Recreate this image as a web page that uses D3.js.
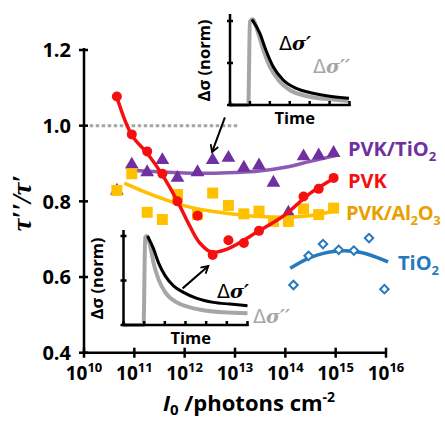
<!DOCTYPE html>
<html>
<head>
<meta charset="utf-8">
<script src="https://cdn.jsdelivr.net/npm/d3@7"></script>
<style>
  body { margin: 0; background: #fff; }
  svg { font-family: "Open Sans", sans-serif; font-weight: bold; }
</style>
</head>
<body>
<svg id="chart" width="445" height="421"></svg>
<script>
// intensities (photons cm^-2) and tau''/tau' ratios
const pvkX = [4.5e10, 8.9e10, 1.8e11, 3.6e11, 7.2e11, 1.8e12, 3.6e12, 7.4e12, 1.5e13, 3.0e13, 2.3e14, 4.6e14, 9.1e14];
const pvkY = [1.077, 0.977, 0.932, 0.873, 0.80, 0.762, 0.658, 0.697, 0.690, 0.722, 0.813, 0.833, 0.862];

const pvkTiX = [4.5e10, 8.9e10, 1.8e11, 3.6e11, 7.2e11, 1.8e12, 3.6e12, 7.4e12, 1.5e13, 3.0e13, 5.8e13, 1.15e14, 2.3e14, 4.6e14, 9.1e14];
const pvkTiY = [0.828, 0.897, 0.877, 0.909, 0.862, 0.877, 0.909, 0.915, 0.889, 0.895, 0.849, 0.770, 0.919, 0.921, 0.928];

const pvkAlX = [4.5e10, 8.9e10, 1.8e11, 3.6e11, 7.2e11, 1.8e12, 3.6e12, 7.4e12, 1.5e13, 3.0e13, 5.8e13, 1.15e14, 2.3e14, 4.6e14, 9.1e14];
const pvkAlY = [0.829, 0.873, 0.771, 0.752, 0.818, 0.765, 0.822, 0.789, 0.767, 0.774, 0.747, 0.747, 0.780, 0.765, 0.782];

const tioX = [1.45e14, 2.9e14, 5.6e14, 1.15e15, 2.3e15, 4.6e15, 9.3e15];
const tioY = [0.579, 0.656, 0.687, 0.672, 0.670, 0.703, 0.568];

// fitted guide lines
const pvkFit = [[4.5e10, 1.075], [8.9e10, 0.975], [1.8e11, 0.927], [3.6e11, 0.87], [7.2e11, 0.80], [1.26e12, 0.735],
  [2.0e12, 0.69], [3.4e12, 0.666], [7e12, 0.674], [3e13, 0.722], [1e14, 0.765], [3e14, 0.82], [9.5e14, 0.862]];
const pvkTiFit = [[8.9e10, 0.882], [3e11, 0.878], [1e12, 0.875], [3e12, 0.874], [1e13, 0.876], [3e13, 0.88],
  [1e14, 0.89], [3e14, 0.905], [1e15, 0.921]];
const pvkAlFit = [[6.3e10, 0.848], [1.6e11, 0.825], [4e11, 0.805], [1e12, 0.788], [3e12, 0.775], [1e13, 0.766],
  [3e13, 0.76], [1e14, 0.758], [3e14, 0.762], [1e15, 0.775]];
const tioFit = [[1.25e14, 0.623], [3.2e14, 0.652], [1e15, 0.668], [3.2e15, 0.665], [1.1e16, 0.64]];

const xTicks = [10, 11, 12, 13, 14, 15, 16];
const yTicks = [0.4, 0.6, 0.8, 1.0, 1.2];

// inset transients: time (arb.) and normalised photoconductance
const topTime = [0, 0.92, 1.0, 1.13, 1.42, 1.67, 2.0, 2.5, 3.0, 3.83, 5.0, 5.97];
const topGrey = [0, 0, 0.99, 1.02, 0.853, 0.655, 0.456, 0.278, 0.179, 0.107, 0.067, 0.048];
const topBlackT = [1.1, 1.5, 1.8, 2.17, 2.67, 3.33, 4.17, 5.0, 5.97];
const topBlack = [1.02, 0.853, 0.655, 0.456, 0.298, 0.198, 0.139, 0.103, 0.079];

const botTime = [0, 0.97, 1.05, 1.13, 1.29, 1.45, 1.69, 2.02, 2.58, 3.23, 4.03, 4.84, 6.0];
const botGrey = [0, 0, 0.985, 1.0, 0.888, 0.701, 0.515, 0.366, 0.254, 0.198, 0.160, 0.142, 0.131];
const botBlackT = [1.16, 1.45, 1.69, 2.02, 2.42, 2.9, 3.55, 4.35, 5.16, 6.0];
const botBlack = [1.0, 0.858, 0.701, 0.552, 0.44, 0.366, 0.299, 0.254, 0.235, 0.216];
const insetTicksX = [0, 1, 2, 3, 4, 5, 6];
const insetTicksY = [0, 0.5, 1];

const colors = { pvk: "#f50f0f", ti: "#7030a0", al: "#ffc000", alText: "#e6a100", tio: "#2679bd" };

const svg = d3.select("#chart");

const x = d3.scaleLog().domain([1e10, 1e16]).range([84, 386]);
const y = d3.scaleLinear().domain([0.4, 1.2]).range([352.7, 50]);

// axes
const gx = svg.append("g").attr("transform", "translate(0,352.7)");
gx.append("line").attr("x1", 84).attr("x2", 386).attr("stroke", "#000").attr("stroke-width", 2.5);
gx.selectAll("line.t").data(xTicks).join("line").attr("class", "t")
  .attr("x1", d => x(Math.pow(10, d))).attr("x2", d => x(Math.pow(10, d)))
  .attr("y1", -5).attr("y2", 5).attr("stroke", "#000").attr("stroke-width", 2.5);
const xl = gx.selectAll("text").data(xTicks).join("text")
  .attr("x", d => x(Math.pow(10, d))).attr("y", 27).attr("text-anchor", "middle")
  .attr("font-size", 19);
xl.append("tspan").text("10");
xl.append("tspan").attr("dy", -8).attr("font-size", 13).text(d => d);

const gy = svg.append("g").attr("transform", "translate(84,0)");
gy.append("line").attr("y1", 48).attr("y2", 354).attr("stroke", "#000").attr("stroke-width", 2.5);
gy.selectAll("line.t").data(yTicks).join("line").attr("class", "t")
  .attr("x1", -5).attr("x2", 4).attr("y1", d => y(d)).attr("y2", d => y(d))
  .attr("stroke", "#000").attr("stroke-width", 2.5);
gy.selectAll("text").data(yTicks).join("text")
  .attr("x", -13).attr("y", d => y(d)).attr("dy", "0.36em").attr("text-anchor", "end")
  .attr("font-size", 20).text(d => d.toFixed(1));

// axis titles
svg.append("text").attr("transform", "translate(31,203) rotate(-90)")
  .attr("text-anchor", "middle").attr("font-family", "Liberation Serif").attr("font-style", "italic")
  .attr("font-size", 28).text("\u03c4\u2032\u2032/\u03c4\u2032");
const xt = svg.append("text").attr("x", 249).attr("y", 411).attr("text-anchor", "middle").attr("font-size", 22);
xt.append("tspan").attr("font-style", "italic").text("I");
xt.append("tspan").attr("font-size", 15).attr("dy", 4).text("0");
xt.append("tspan").attr("dy", -4).text(" /photons cm");
xt.append("tspan").attr("font-size", 14).attr("dy", -9).text("-2");

// reference line at 1
svg.append("line").attr("x1", x(1.3e10)).attr("x2", x(1.15e13)).attr("y1", y(1)).attr("y2", y(1))
  .attr("stroke", "#a6a6a6").attr("stroke-width", 3).attr("stroke-dasharray", "3.5,2.5");

const line = d3.line().x(d => x(d[0])).y(d => y(d[1])).curve(d3.curveCatmullRom.alpha(0.5));

// series markers under the fit lines, like the original
const sym = (type, size) => d3.symbol().type(type).size(size);

svg.append("g").selectAll("path").data(d3.zip(pvkTiX, pvkTiY)).join("path")
  .attr("transform", d => `translate(${x(d[0])},${y(d[1])})`)
  .attr("d", sym(d3.symbolTriangle, 82)).attr("fill", colors.ti);
svg.append("path").datum(pvkTiFit).attr("d", line).attr("fill", "none")
  .attr("stroke", colors.ti).attr("stroke-width", 3.5).attr("opacity", 0.8);

svg.append("g").selectAll("rect").data(d3.zip(pvkAlX, pvkAlY)).join("rect")
  .attr("x", d => x(d[0]) - 5.5).attr("y", d => y(d[1]) - 5.5).attr("width", 11).attr("height", 11)
  .attr("fill", colors.al);
svg.append("path").datum(pvkAlFit).attr("d", line).attr("fill", "none")
  .attr("stroke", colors.al).attr("stroke-width", 3.5);

svg.append("path").datum(pvkFit).attr("d", line).attr("fill", "none")
  .attr("stroke", colors.pvk).attr("stroke-width", 3.5);
svg.append("g").selectAll("circle").data(d3.zip(pvkX, pvkY)).join("circle")
  .attr("cx", d => x(d[0])).attr("cy", d => y(d[1])).attr("r", 5).attr("fill", colors.pvk);

svg.append("path").datum(tioFit).attr("d", line).attr("fill", "none")
  .attr("stroke", colors.tio).attr("stroke-width", 3.5);
svg.append("g").selectAll("path").data(d3.zip(tioX, tioY)).join("path")
  .attr("transform", d => `translate(${x(d[0])},${y(d[1])}) rotate(45)`)
  .attr("d", d3.symbol().type(d3.symbolSquare).size(36)).attr("fill", "#fff")
  .attr("stroke", colors.tio).attr("stroke-width", 2);

// series labels; second item of a part marks a subscript
function label(px, py, color, parts) {
  const t = svg.append("text").attr("x", px).attr("y", py).attr("font-size", 20).attr("fill", color);
  let shift = 0;
  parts.forEach(p => {
    const target = p[1] ? 5 : 0;
    const sp = t.append("tspan").attr("dy", target - shift).text(p[0]);
    if (p[1]) sp.attr("font-size", 13);
    shift = target;
  });
  return t;
}
label(348, 156, colors.ti, [["PVK/TiO"], ["2", 1]]);
label(348, 188, colors.pvk, [["PVK"]]);
label(346, 220, colors.alText, [["PVK/Al"], ["2", 1], ["O"], ["3", 1]]).attr("letter-spacing", -0.4);
label(398, 270, colors.tio, [["TiO"], ["2", 1]]);

// arrows pointing from the insets to the data
svg.append("defs").append("marker").attr("id", "head").attr("viewBox", "0 0 10 10")
  .attr("refX", 8).attr("refY", 5).attr("markerWidth", 5).attr("markerHeight", 5)
  .attr("orient", "auto").append("path").attr("d", "M1,1 L8,5 L1,9")
  .attr("fill", "none").attr("stroke", "#000").attr("stroke-width", 1.8);
const arrows = [[[6.3e12, 1.022], [3.5e12, 0.93]], [[9.1e11, 0.57], [2.95e12, 0.629]]];
svg.append("g").selectAll("line").data(arrows).join("line")
  .attr("x1", d => x(d[0][0])).attr("y1", d => y(d[0][1]))
  .attr("x2", d => x(d[1][0])).attr("y2", d => y(d[1][1]))
  .attr("stroke", "#000").attr("stroke-width", 2).attr("marker-end", "url(#head)");

// inset transients
function inset(left, right, base, top, axisTop, greyT, greyV, blackT, blackV, lab) {
  const ix = d3.scaleLinear().domain([0, 6]).range([left, right]);
  const iy = d3.scaleLinear().domain([0, 1]).range([base, top]);
  const g = svg.append("g");
  const l = d3.line().x(d => ix(d[0])).y(d => iy(d[1])).curve(d3.curveMonotoneX);
  g.append("path").datum(d3.zip(greyT, greyV)).attr("d", l).attr("fill", "none")
    .attr("stroke", "#a6a6a6").attr("stroke-width", 4);
  g.append("path").datum(d3.zip(blackT, blackV)).attr("d", l).attr("fill", "none")
    .attr("stroke", "#000").attr("stroke-width", 3);
  g.append("line").attr("x1", left).attr("x2", left).attr("y1", axisTop).attr("y2", base + 1)
    .attr("stroke", "#000").attr("stroke-width", 2.5);
  g.append("line").attr("x1", left - 1).attr("x2", right + 1).attr("y1", base).attr("y2", base)
    .attr("stroke", "#000").attr("stroke-width", 2.5);
  g.selectAll("line.tx").data(insetTicksX).join("line").attr("class", "tx")
    .attr("x1", d => ix(d)).attr("x2", d => ix(d)).attr("y1", base - 4).attr("y2", base + 1)
    .attr("stroke", "#000").attr("stroke-width", 2.5);
  g.selectAll("line.ty").data(insetTicksY).join("line").attr("class", "ty")
    .attr("x1", left - 3).attr("x2", left + 3).attr("y1", d => iy(d)).attr("y2", d => iy(d))
    .attr("stroke", "#000").attr("stroke-width", 2.5);
  g.append("text").attr("transform", `translate(${left - 26},${(base + axisTop) / 2 + 1}) rotate(-90)`)
    .attr("text-anchor", "middle").attr("dy", "0.36em").attr("font-size", 16.5).text("\u0394\u03c3 (norm)");
  g.append("text").attr("x", ix(3.25)).attr("y", base + 19).attr("text-anchor", "middle")
    .attr("font-size", 16.5).text("Time");
  const s1 = g.append("text").attr("x", lab[0]).attr("y", lab[1]).attr("font-size", 19).attr("fill", "#000");
  s1.append("tspan").attr("font-family", "DejaVu Sans").attr("font-weight", "normal").text("\u0394");
  s1.append("tspan").attr("font-family", "DejaVu Serif").attr("font-style", "italic").text("\u03c3\u2032");
  const s2 = g.append("text").attr("x", lab[2]).attr("y", lab[3]).attr("font-size", 19).attr("fill", "#a6a6a6");
  s2.append("tspan").attr("font-family", "DejaVu Sans").attr("font-weight", "normal").text("\u0394");
  s2.append("tspan").attr("font-family", "DejaVu Serif").attr("font-style", "italic").text("\u03c3\u2032\u2032");
}
inset(230, 349.5, 105, 21, 14, topTime, topGrey, topBlackT, topBlack, [279, 50, 313, 73]);
inset(123.5, 247.5, 325, 236, 230, botTime, botGrey, botBlackT, botBlack, [217, 298, 253, 323]);
</script>
</body>
</html>
